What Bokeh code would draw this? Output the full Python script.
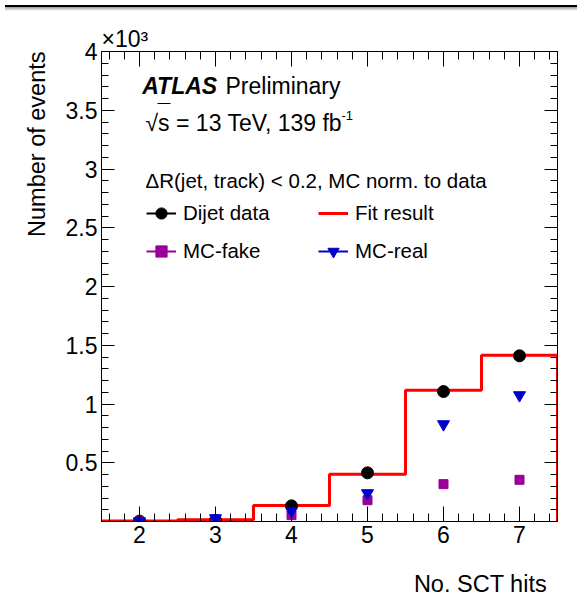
from bokeh.plotting import figure
from bokeh.models import (FixedTicker, LinearAxis, Label, Legend, LegendItem,
                          Title, Div, Range1d, ColumnDataSource)
from bokeh.layouts import column
from bokeh.embed import file_html
from bokeh.resources import INLINE

# ---------------- data ----------------
sct_hits = [2, 3, 4, 5, 6, 7]
bin_edges = [1.5, 2.5, 3.5, 4.5, 5.5, 6.5, 7.5]
dijet_data = [3, 10, 133, 414, 1106, 1410]
dijet_err = [2, 3, 12, 20, 33, 38]
mc_fake = [0, 4, 54, 181, 318, 355]
mc_fake_err = [0, 2, 6, 10, 14, 15]
mc_real = [2, 28, 91, 241, 828, 1075]
mc_real_err = [1, 4, 8, 12, 22, 25]
fit_result = [5, 15, 136, 403, 1118, 1415]

x_tick_values = [2, 3, 4, 5, 6, 7]
y_tick_values = [500, 1000, 1500, 2000, 2500, 3000, 3500, 4000]
y_tick_labels = ["0.5", "1", "1.5", "2", "2.5", "3", "3.5", "4"]

FONT = "Liberation Sans"

# frame in page pixels: left 101, right 557, top 49, bottom 519
FL, FR, FT, FB = 101, 557, 49, 519
XMIN, XMAX, YMIN, YMAX = 1.5, 7.5, 0, 4000


def X(px):
    return XMIN + (px - FL) * (XMAX - XMIN) / (FR - FL)


def Y(py):
    return YMIN + (FB - py) * (YMAX - YMIN) / (FB - FT)


p = figure(width=569, height=538, x_range=Range1d(XMIN, XMAX),
           y_range=Range1d(YMIN, YMAX), output_backend="svg",
           toolbar_location=None, min_border_left=101, min_border_right=12,
           min_border_top=35, min_border_bottom=33)
p.xgrid.visible = False
p.ygrid.visible = False
p.outline_line_color = "black"
p.background_fill_color = "white"
p.border_fill_color = "white"

x_minor = [round(XMIN + 0.2 * k + 0.1, 1) for k in range(30)]
x_minor = [v for v in x_minor if abs(v - round(v)) > 1e-6 and v < XMAX]
y_minor = [100 * k for k in range(1, 40) if k % 5 != 0]

xt = FixedTicker(ticks=x_tick_values, minor_ticks=x_minor)
yt = FixedTicker(ticks=y_tick_values, minor_ticks=y_minor)


def style_axis(ax, major_in, minor_in, ticks, labels=True):
    ax.major_tick_in = major_in
    ax.major_tick_out = 0
    ax.minor_tick_in = minor_in
    ax.minor_tick_out = 0
    ax.axis_line_color = "black"
    ax.major_tick_line_color = "black"
    ax.minor_tick_line_color = "black"
    if labels:
        ax.major_label_text_font = FONT
        ax.major_label_text_font_size = "23px"
        ax.major_label_text_color = "black"
        ax.major_label_standoff = 4
    else:
        ax.major_label_overrides = {v: "" for v in ticks}
        ax.major_label_text_font_size = "0px"
        ax.major_label_standoff = 0


bottom_ax = p.below[0]
left_ax = p.left[0]
bottom_ax.ticker = xt
left_ax.ticker = yt
style_axis(bottom_ax, 15, 8, x_tick_values)
style_axis(left_ax, 13, 7, y_tick_values)
left_ax.major_label_overrides = {v: s for v, s in zip(y_tick_values, y_tick_labels)}

top_ax = LinearAxis(ticker=xt)
style_axis(top_ax, 15, 8, x_tick_values, labels=False)
p.add_layout(top_ax, "above")
right_ax = LinearAxis(ticker=yt)
style_axis(right_ax, 13, 7, y_tick_values, labels=False)
p.add_layout(right_ax, "right")

# axis titles
p.title.text = ""
p.add_layout(Title(text="×10³", align="left", text_font=FONT,
                   text_font_size="23px", text_font_style="normal",
                   text_color="black", offset=0, standoff=0), "above")
p.add_layout(Title(text="Number of events", align="right", text_font=FONT,
                   text_font_size="23.5px", text_font_style="normal",
                   text_color="black", offset=0, standoff=26), "left")

# ---------------- marks ----------------
step_x = bin_edges + [bin_edges[-1]]
step_y = fit_result + [fit_result[-1], 0]
fit_r = p.step(x=step_x, y=step_y, mode="after", line_color="#ff0000",
               line_width=3)


def err_source(vals, errs):
    return ColumnDataSource(dict(x=sct_hits, lo=[v - e for v, e in zip(vals, errs)],
                                 hi=[v + e for v, e in zip(vals, errs)], y=vals))


src_d = err_source(dijet_data, dijet_err)
src_f = err_source(mc_fake, mc_fake_err)
src_r = err_source(mc_real, mc_real_err)

d_err = p.segment(x0="x", y0="lo", x1="x", y1="hi", source=src_d,
                  line_color="black", line_width=2)
d_pts = p.scatter(x="x", y="y", source=src_d, marker="circle", size=12,
                  color="black")
f_err = p.segment(x0="x", y0="lo", x1="x", y1="hi", source=src_f,
                  line_color="#990099", line_width=2)
f_pts = p.scatter(x="x", y="y", source=src_f, marker="square", size=9,
                  color="#990099")
r_err = p.segment(x0="x", y0="lo", x1="x", y1="hi", source=src_r,
                  line_color="#0000cc", line_width=2)
r_pts = p.scatter(x="x", y="y", source=src_r, marker="inverted_triangle",
                  size=12, color="#0000cc")

legend = Legend(items=[
    LegendItem(label="Dijet data", renderers=[d_err, d_pts]),
    LegendItem(label="MC-fake", renderers=[f_err, f_pts]),
    LegendItem(label="Fit result", renderers=[fit_r]),
    LegendItem(label="MC-real", renderers=[r_err, r_pts]),
], orientation="vertical", nrows=2, location=(45, 256),
    glyph_width=30, glyph_height=28, label_height=20, label_width=125,
    label_standoff=7, spacing=10, padding=0, margin=0,
    border_line_alpha=0, background_fill_alpha=0,
    label_text_font=FONT, label_text_font_size="20.5px",
    label_text_color="black")
p.add_layout(legend, "center")


# ---------------- text ----------------
def add_label(px, py, text, size, style="normal", align="left"):
    p.add_layout(Label(x=X(px), y=Y(py), text=text, text_font=FONT,
                       text_font_size=size, text_font_style=style,
                       text_align=align, text_baseline="alphabetic",
                       text_color="black"))


add_label(141.7, 83.3, "ATLAS", "23px", "bold italic")
add_label(225, 83.3, "Preliminary", "23px")
add_label(145, 120, "√s = 13 TeV, 139 fb", "23px")
add_label(341, 113, "-1", "13px")
p.segment(x0=[X(157)], y0=[Y(101)], x1=[X(170)], y1=[Y(101)],
          line_color="black", line_width=1.2)
add_label(145, 178, "ΔR(jet, track) < 0.2, MC norm. to data", "20.5px")

# ---------------- x-axis title strip (below the main figure) ----------------
STRIP_H = 46
strip = figure(width=569, height=STRIP_H, x_range=Range1d(0, 569),
               y_range=Range1d(0, STRIP_H), output_backend="svg",
               toolbar_location=None, x_axis_type=None, y_axis_type=None,
               min_border=0)
strip.xgrid.visible = False
strip.ygrid.visible = False
strip.outline_line_color = None
strip.background_fill_color = "white"
strip.border_fill_color = "white"
strip.add_layout(Label(x=556, y=17, text="No. SCT hits", text_font=FONT,
                       text_font_size="23.5px", text_align="right",
                       text_baseline="alphabetic", text_color="black"))

top_box = Div(width=573, height=6, styles={
    "background": "linear-gradient(to bottom, #000 0px, #000 2px, #9a9a9a 2px, #ffffff 6px)"})

layout = column(top_box, p, strip, spacing=0)
open("out.html", "w").write(file_html(layout, INLINE))
